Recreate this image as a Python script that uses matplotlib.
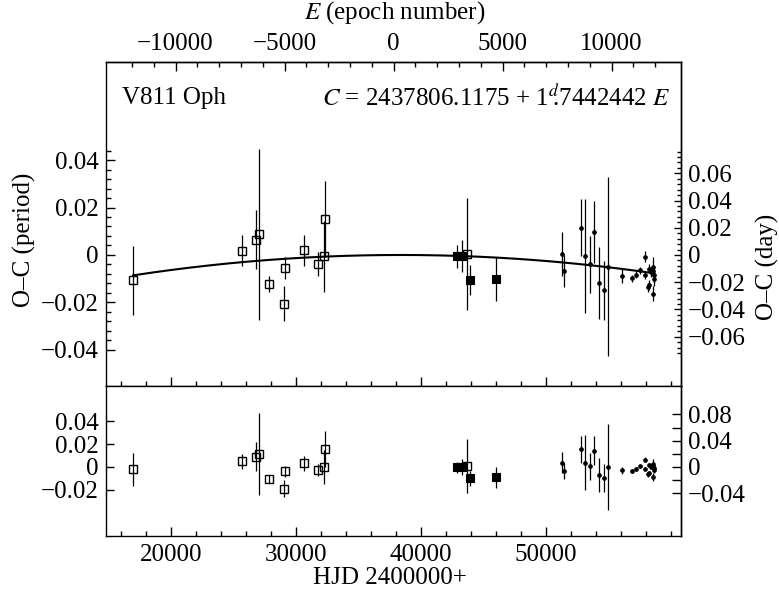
import numpy as np
import matplotlib
matplotlib.use('Agg')
import matplotlib.pyplot as plt
from matplotlib.ticker import FixedLocator, FuncFormatter

plt.rcParams['font.family'] = 'serif'
plt.rcParams['font.serif'] = ['Liberation Serif', 'DejaVu Serif']
plt.rcParams['mathtext.fontset'] = 'stix'
plt.rcParams['font.size'] = 18

# Elements of the linear ephemeris
T0 = 37806.1175
PERIOD = 1.7442442

# Open squares: HJD-2400000, O-C (period), error
open_hjd = [16960, 25650, 26770, 27010, 27840, 29040, 29150, 30620, 31760, 32270, 32350, 43710]
open_oc = [-0.0106, 0.0018, 0.0065, 0.0088, -0.0123, -0.0206, -0.0055, 0.0019, -0.0037, -0.0006, 0.0150, 0.0005]
open_err = [0.0145, 0.0065, 0.0126, 0.036, 0.0035, 0.0074, 0.0048, 0.0065, 0.0051, 0.0148, 0.016, 0.0236]

# Filled squares
sq_hjd = [42900, 43250, 43920, 45970]
sq_oc = [-0.0006, -0.0003, -0.0105, -0.0101]
sq_err = [0.0048, 0.0068, 0.0063, 0.0094]

# Filled dots
dot_hjd = [51310, 51440, 52770, 53120, 53520, 53840, 54270, 54610, 54990, 56080, 56850, 57170,
           57520, 57890, 57890, 58130, 58240, 58270, 58370, 58530, 58590, 58640, 58640, 58560]
dot_oc = [0.0004, -0.0068, 0.0114, -0.0006, -0.0039, 0.0098, -0.0117, -0.0148, -0.0050, -0.0087,
          -0.0099, -0.0084, -0.0064, -0.0007, -0.0086, -0.0137, -0.0127, -0.0058, -0.0072, -0.0068,
          -0.0163, -0.0086, -0.0102, -0.0050]
dot_err = [0.0091, 0.0068, 0.012, 0.024, 0.012, 0.013, 0.0152, 0.0124, 0.0377, 0.0029, 0.0015, 0.0015,
           0.0015, 0.0022, 0.0015, 0.002, 0.002, 0.002, 0.002, 0.002, 0.0033, 0.003, 0.003, 0.004]

# Quadratic fit: oc = FIT_A + FIT_C * (hjd - FIT_TM)^2
FIT_A = 0.0
FIT_C = -1.875e-11
FIT_TM = 38376.0


def fit(t):
    return FIT_A + FIT_C * (np.asarray(t, dtype=float) - FIT_TM) ** 2


def fmt(v, pos):
    if abs(v) < 1e-9:
        return '0'
    return f'{v:.2f}'.replace('-', '\u2212')


fig = plt.figure(figsize=(7.79, 5.98), dpi=100)
W, H = 779, 598
ax1 = fig.add_axes([106 / W, 1 - 386 / H, 575 / W, 324 / H])
ax2 = fig.add_axes([106 / W, 1 - 536 / H, 575 / W, 150 / H], sharex=ax1)

groups = [
    (open_hjd, open_oc, open_err, dict(marker='s', ms=5.3, mfc='none', mec='k', mew=1.0)),
    (sq_hjd, sq_oc, sq_err, dict(marker='s', ms=5.8, mfc='k', mec='k', mew=0.8)),
    (dot_hjd, dot_oc, dot_err, dict(marker='o', ms=2.8, mfc='k', mec='k', mew=0.5)),
]

for x, y, e, st in groups:
    ax1.errorbar(x, y, yerr=e, ls='none', ecolor='k', elinewidth=0.9, capsize=0, **st)
    # residuals from the quadratic fit
    resid = np.array(y) - fit(x)
    ax2.errorbar(x, resid, yerr=e, ls='none', ecolor='k', elinewidth=0.9, capsize=0, **st)

all_hjd = open_hjd + sq_hjd + dot_hjd
tt = np.linspace(min(all_hjd), max(all_hjd), 300)
ax1.plot(tt, fit(tt), color='k', lw=1.5)

ax1.set_xlim(14800, 60800)
ax1.set_ylim(-0.0552, 0.0813)
ax2.set_ylim(-0.0603, 0.0707)

for ax in (ax1, ax2):
    for s in ax.spines.values():
        s.set_linewidth(1.0)

# x ticks
ax1.xaxis.set_major_locator(FixedLocator([20000, 30000, 40000, 50000]))
ax1.xaxis.set_minor_locator(FixedLocator(np.arange(16000, 60001, 2000)))
ax1.tick_params(axis='x', which='both', direction='in', bottom=True, top=False, labelbottom=False)
ax1.tick_params(axis='x', which='major', length=6.5, width=1.0)
ax1.tick_params(axis='x', which='minor', length=3.8, width=1.0)
ax2.tick_params(axis='x', which='both', direction='in', bottom=True, top=False, labelbottom=True, pad=6)
ax2.tick_params(axis='x', which='major', length=6.5, width=1.0)
ax2.tick_params(axis='x', which='minor', length=3.8, width=1.0)
ax2.xaxis.set_major_formatter(FuncFormatter(lambda v, p: f'{int(v)}'))

# left y ticks
ax1.yaxis.set_major_locator(FixedLocator([-0.04, -0.02, 0, 0.02, 0.04]))
ax1.yaxis.set_minor_locator(FixedLocator(np.arange(-0.04, 0.0441, 0.004)))
ax1.yaxis.set_major_formatter(FuncFormatter(fmt))
ax1.tick_params(axis='y', which='both', direction='in', right=False, pad=5.5)
ax1.tick_params(axis='y', which='major', length=6.5, width=1.0)
ax1.tick_params(axis='y', which='minor', length=3.8, width=1.0)

ax2.yaxis.set_major_locator(FixedLocator([-0.02, 0, 0.02, 0.04]))
ax2.yaxis.set_major_formatter(FuncFormatter(fmt))
ax2.tick_params(axis='y', which='major', direction='in', right=False, length=6, width=1.0, pad=5.5)

# right y axes in days
r1 = ax1.secondary_yaxis('right', functions=(lambda v: v * PERIOD, lambda v: v / PERIOD))
r1.yaxis.set_major_locator(FixedLocator([-0.06, -0.04, -0.02, 0, 0.02, 0.04, 0.06]))
r1.yaxis.set_minor_locator(FixedLocator(np.arange(-0.072, 0.0761, 0.004)))
r1.yaxis.set_major_formatter(FuncFormatter(fmt))
r1.tick_params(which='both', direction='in', width=1.0, pad=5)
r1.tick_params(which='major', length=5)
r1.tick_params(which='minor', length=3)
r1.spines['right'].set_linewidth(1.0)

r2 = ax2.secondary_yaxis('right', functions=(lambda v: v * PERIOD, lambda v: v / PERIOD))
r2.yaxis.set_major_locator(FixedLocator([-0.04, 0, 0.04, 0.08]))
r2.yaxis.set_minor_locator(FixedLocator([-0.02, 0.02, 0.06]))
r2.yaxis.set_major_formatter(FuncFormatter(fmt))
r2.tick_params(which='both', direction='in', length=6.5, width=1.0, pad=5)
r2.spines['right'].set_linewidth(1.0)

# top axis: epoch number
top = ax1.secondary_xaxis('top', functions=(lambda h: (h - T0) / PERIOD, lambda e: e * PERIOD + T0))
top.xaxis.set_major_locator(FixedLocator([-10000, -5000, 0, 5000, 10000]))
top.xaxis.set_minor_locator(FixedLocator(np.arange(-12000, 12001, 1000)))
top.xaxis.set_major_formatter(FuncFormatter(lambda v, p: f'{int(v)}'.replace('-', '\u2212')))
top.tick_params(which='both', direction='in', width=1.0, pad=5)
top.tick_params(which='major', length=6.5)
top.tick_params(which='minor', length=3.8)
top.spines['top'].set_linewidth(1.0)

# labels
fig.text(395 / W, 1 - 13 / H, '$E$ (epoch number)', ha='center', va='center')
fig.text(390 / W, 1 - 578 / H, 'HJD 2400000+', ha='center', va='center')
fig.text(24 / W, 1 - 240 / H, 'O\u2013C (period)', rotation=90, ha='center', va='center')
fig.text(767 / W, 1 - 267 / H, 'O\u2013C (day)', rotation=90, ha='center', va='center')

fig.text(122 / W, 1 - 98 / H, 'V811 Oph', ha='left', va='center')
fig.text(670 / W, 1 - 98 / H, r'$C$ = 2437806.1175 + 1$^{d}\!\!$.7442442 $E$', ha='right', va='center')

fig.savefig('out.png', dpi=100)
